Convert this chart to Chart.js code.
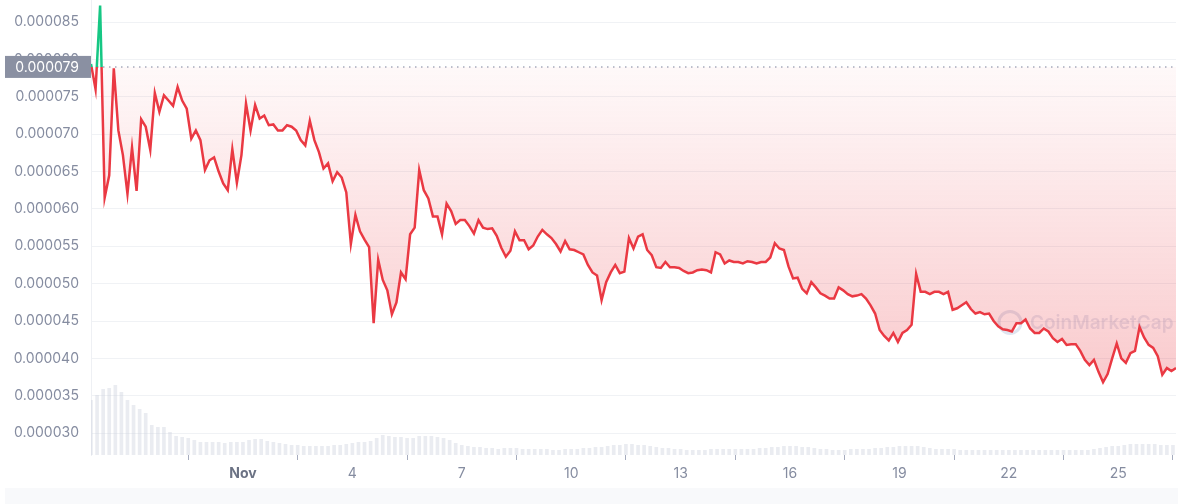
<!DOCTYPE html>
<html>
<head>
<meta charset="utf-8">
<script src="https://cdn.jsdelivr.net/npm/chart.js@4.4.0/dist/chart.umd.min.js"></script>
<style>
html, body { margin: 0; padding: 0; background: #fff; }
#wrap { position: relative; width: 1178px; height: 488px; overflow: hidden; }
#priceChart { position: absolute; left: 0; top: -20px; }
#band { position: absolute; left: 5px; top: 488px; width: 1173px; height: 16px; background: #f8f9fb; }
</style>
</head>
<body>
<div id="wrap"><canvas id="priceChart" width="1178" height="508"></canvas></div>
<div id="band"></div>
<script>
// time in days from Nov 1 00:00, series starts Oct 27 20:00
const startDay = -4 - 4 / 24;
const priceStepHours = 3;
const volumeStepHours = 4;

// price, in units of 0.000001 USD, one point every 3 hours
const prices = [
	79.4, 76.0, 87.2, 61.5, 64.5, 78.8, 70.5, 67.2, 62.0, 68.2,
	62.4, 72.0, 71.0, 67.9, 75.5, 73.0, 75.2, 74.5, 73.8, 76.3,
	74.5, 73.4, 69.4, 70.5, 69.2, 65.2, 66.5, 66.9, 65.0, 63.4,
	62.5, 68.0, 63.5, 67.2, 74.1, 70.5, 73.9, 72.1, 72.5, 71.2,
	71.3, 70.5, 70.5, 71.2, 71.0, 70.5, 69.2, 68.5, 71.8, 69.2,
	67.6, 65.4, 66.1, 63.7, 64.9, 64.2, 62.2, 55.3, 59.2, 57.0,
	55.9, 54.9, 44.7, 53.2, 50.5, 49.1, 45.9, 47.5, 51.5, 50.6,
	56.6, 57.5, 65.2, 62.5, 61.4, 59.0, 59.0, 56.6, 60.7, 59.7,
	58.0, 58.5, 58.5, 57.7, 56.7, 58.5, 57.5, 57.3, 57.4, 56.4,
	54.8, 53.6, 54.4, 57.0, 55.8, 55.8, 54.6, 55.1, 56.3, 57.2,
	56.6, 56.1, 55.3, 54.3, 55.7, 54.6, 54.5, 54.2, 53.9, 52.5,
	51.5, 51.1, 47.8, 50.2, 51.5, 52.5, 51.4, 51.6, 56.1, 54.7,
	56.3, 56.6, 54.5, 53.8, 52.2, 52.1, 52.9, 52.2, 52.2, 52.1,
	51.7, 51.4, 51.5, 51.8, 51.9, 51.8, 51.5, 54.2, 53.9, 52.7,
	53.1, 52.9, 52.9, 52.7, 53.0, 52.9, 52.7, 52.9, 52.9, 53.5,
	55.4, 54.7, 54.5, 52.3, 50.7, 50.8, 49.3, 48.7, 50.2, 49.5,
	48.7, 48.4, 48.0, 48.0, 49.5, 49.1, 48.6, 48.3, 48.4, 48.6,
	48.0, 47.1, 46.0, 43.8, 43.0, 42.4, 43.4, 42.2, 43.4, 43.8,
	44.5, 51.3, 48.9, 48.9, 48.6, 48.9, 48.9, 48.6, 48.9, 46.5,
	46.7, 47.1, 47.5, 46.6, 46.0, 46.2, 45.9, 46.0, 45.0, 44.3,
	43.9, 43.8, 43.6, 44.7, 44.7, 45.2, 44.0, 43.4, 43.4, 44.0,
	43.6, 42.7, 42.2, 42.6, 41.8, 41.9, 41.9, 41.0, 39.8, 39.1,
	39.8, 38.2, 36.8, 37.9, 40.0, 42.0, 40.0, 39.4, 40.7, 41.0,
	44.2, 42.8, 41.8, 41.4, 40.3, 37.8, 38.7, 38.3, 38.7
];

// relative volume, one bar every 4 hours
const volumes = [
	55, 60, 66, 67, 70, 63, 55, 50, 46, 42,
	30, 28, 28, 23, 19, 18, 17, 15, 13, 13,
	13, 13, 12, 13, 13, 13, 15, 16, 16, 14,
	13, 12, 11, 10, 10, 9, 9, 9, 9, 9,
	10, 10, 11, 12, 13, 13, 14, 17, 20, 19,
	18, 18, 17, 17, 19, 19, 19, 18, 17, 15,
	12, 10, 9, 8, 8, 7, 7, 6, 7, 7,
	7, 6, 6, 6, 6, 6, 5, 5, 6, 6,
	6, 7, 7, 8, 8, 9, 10, 10, 11, 11,
	10, 10, 9, 8, 7, 7, 6, 6, 5, 5,
	5, 5, 6, 6, 6, 6, 6, 6, 6, 6,
	7, 7, 8, 8, 9, 9, 9, 8, 8, 7,
	6, 6, 5, 5, 5, 6, 6, 6, 6, 7,
	7, 8, 8, 9, 9, 9, 9, 8, 7, 6,
	6, 6, 6, 5, 5, 5, 5, 5, 5, 5,
	5, 5, 5, 5, 5, 5, 5, 5, 5, 5,
	5, 5, 5, 5, 5, 6, 7, 8, 9, 9,
	10, 11, 11, 11, 11, 11, 10, 10, 10
];

const baselinePrice = 79.0;
const yTickValues = [30, 35, 40, 45, 50, 55, 60, 65, 70, 75, 80, 85];
const tickDays = [0, 3, 6, 9, 12, 15, 18, 21, 24];
const tickLabels = ['Nov', '4', '7', '10', '13', '16', '19', '22', '25'];

const RED = '#ea3943';
const GREEN = '#16c784';
const endDay = startDay + (prices.length - 1) * priceStepHours / 24;

function baselineRatio(chart) {
	const area = chart.chartArea;
	const yb = chart.scales.y.getPixelForValue(baselinePrice);
	return Math.min(Math.max((yb - area.top) / (area.bottom - area.top), 0), 1);
}

function lineColor(context) {
	const chart = context.chart;
	if (!chart.chartArea) return RED;
	const area = chart.chartArea;
	const t = baselineRatio(chart);
	const g = chart.ctx.createLinearGradient(0, area.top, 0, area.bottom);
	g.addColorStop(0, GREEN);
	g.addColorStop(t, GREEN);
	g.addColorStop(t, RED);
	g.addColorStop(1, RED);
	return g;
}

function fillColor(context) {
	const chart = context.chart;
	if (!chart.chartArea) return 'rgba(234,57,67,0.1)';
	const area = chart.chartArea;
	const t = baselineRatio(chart);
	const g = chart.ctx.createLinearGradient(0, area.top, 0, area.bottom);
	g.addColorStop(0, 'rgba(22,199,132,0.18)');
	g.addColorStop(t, 'rgba(22,199,132,0.04)');
	g.addColorStop(t, 'rgba(234,57,67,0.03)');
	g.addColorStop(1, 'rgba(234,57,67,0.32)');
	return g;
}

// grey price tag on the left of the dotted reference line
const baselineTag = {
	id: 'baselineTag',
	afterDraw(chart) {
		const ctx = chart.ctx;
		const yb = chart.scales.y.getPixelForValue(baselinePrice);
		ctx.save();
		ctx.fillStyle = '#8a90a2';
		ctx.fillRect(5, yb - 11, chart.chartArea.left - 5, 22);
		ctx.fillStyle = '#fff';
		ctx.font = '14px Inter';
		ctx.textAlign = 'right';
		ctx.textBaseline = 'middle';
		ctx.fillText((baselinePrice / 1e6).toFixed(6), chart.chartArea.left - 12, yb + 1);
		ctx.restore();
	}
};

const watermark = {
	id: 'watermark',
	beforeDatasetsDraw(chart) {
		const ctx = chart.ctx;
		const top = chart.chartArea.top;
		ctx.save();
		ctx.strokeStyle = 'rgba(150,170,205,0.3)';
		ctx.lineWidth = 3;
		ctx.beginPath();
		ctx.arc(1010, top + 322, 11, 0, Math.PI * 2);
		ctx.stroke();
		ctx.fillStyle = 'rgba(150,170,205,0.28)';
		ctx.font = '600 19px Inter';
		ctx.textBaseline = 'middle';
		ctx.fillText('CoinMarketCap', 1030, top + 323);
		ctx.restore();
	}
};

new Chart(document.getElementById('priceChart'), {
	type: 'line',
	data: {
		datasets: [{
			label: 'Price',
			data: prices.map((p, i) => ({ x: startDay + i * priceStepHours / 24, y: p })),
			borderColor: lineColor,
			backgroundColor: fillColor,
			fill: { value: baselinePrice },
			borderWidth: 2.5,
			pointRadius: 0,
			tension: 0,
			order: 1
		}, {
			label: 'Reference',
			data: [{ x: startDay, y: baselinePrice }, { x: endDay, y: baselinePrice }],
			borderColor: '#a6acbe',
			borderWidth: 1.5,
			borderDash: [1.5, 4.5],
			pointRadius: 0,
			fill: false,
			order: 2
		}, {
			type: 'bar',
			label: 'Volume',
			data: volumes.map((v, i) => ({ x: startDay + i * volumeStepHours / 24, y: v })),
			yAxisID: 'y1',
			backgroundColor: 'rgba(205,210,222,0.42)',
			barPercentage: 1,
			categoryPercentage: 0.6,
			order: 3
		}]
	},
	options: {
		responsive: false,
		animation: false,
		layout: { autoPadding: false, padding: { left: 0, right: 2, top: 0, bottom: 0 } },
		plugins: {
			legend: { display: false },
			tooltip: { enabled: false }
		},
		scales: {
			x: {
				type: 'linear',
				min: startDay,
				max: endDay,
				offset: false,
				afterBuildTicks: s => { s.ticks = tickDays.map(v => ({ value: v })); },
				afterFit: s => { s.height = 33; },
				grid: { drawOnChartArea: false, drawTicks: true, tickLength: 5, color: '#a6acbe' },
				border: { display: false },
				ticks: {
					padding: 5,
					maxRotation: 0,
					autoSkip: false,
					callback: (v, i) => tickLabels[i],
					color: ctx => ctx.index === 0 ? '#6b7284' : '#858ca0',
					font: ctx => ({ family: 'Inter', size: 14, weight: ctx.index === 0 ? '700' : '400' })
				}
			},
			y: {
				min: 27.07,
				max: 87.9,
				afterBuildTicks: s => { s.ticks = yTickValues.map(v => ({ value: v })); },
				afterFit: s => { s.width = 91; },
				grid: { color: '#f0f2f5', drawTicks: false },
				border: { display: true, color: '#eef0f4' },
				ticks: {
					padding: 12,
					color: '#858ca0',
					font: { family: 'Inter', size: 14 },
					callback: v => (v / 1e6).toFixed(6)
				}
			},
			y1: {
				display: false,
				min: 0,
				max: 455
			}
		}
	},
	plugins: [baselineTag, watermark]
});
</script>
</body>
</html>
